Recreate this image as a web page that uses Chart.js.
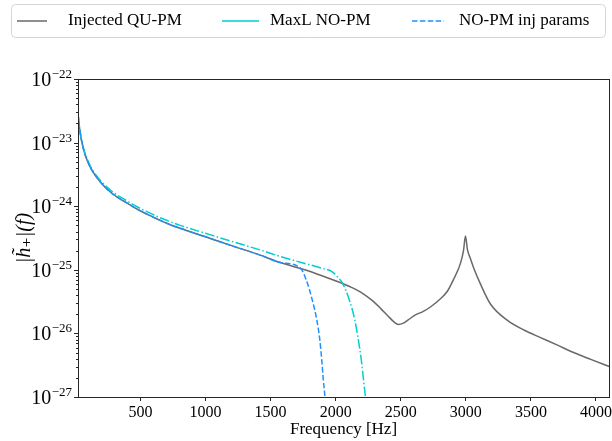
<!DOCTYPE html>
<html><head><meta charset="utf-8">
<script src="https://cdn.jsdelivr.net/npm/chart.js@4.4.1/dist/chart.umd.min.js"></script>
<style>html,body{margin:0;padding:0;background:#fff;}canvas{display:block;}</style>
</head><body>
<canvas id="c" width="612" height="441"></canvas>
<script>
// ---- data ----
const freqQU = [20, 30, 40, 58, 80, 112, 150, 212, 280, 343, 410, 474, 550, 628, 720, 805, 1000, 1200, 1420, 1574, 1750, 1900, 2035, 2120, 2212, 2280, 2343, 2400, 2450, 2482, 2520, 2560, 2612, 2670, 2728, 2805, 2858, 2905, 2958, 2982, 2997, 3012, 3035, 3058, 3112, 3189, 3320, 3450, 3574, 3700, 3828, 3960, 4105];
const ampQU = [2.8e-23, 1.8e-23, 1.3e-23, 8.5e-24, 6.0e-24, 4.2e-24, 3.1e-24, 2.15e-24, 1.6e-24, 1.3e-24, 1.08e-24, 9.0e-25, 7.5e-25, 6.3e-25, 5.2e-25, 4.5e-25, 3.3e-25, 2.4e-25, 1.7e-25, 1.3e-25, 1.02e-25, 8.0e-26, 6.3e-26, 5.3e-26, 4.2e-26, 3.3e-26, 2.5e-26, 1.9e-26, 1.5e-26, 1.38e-26, 1.45e-26, 1.65e-26, 1.95e-26, 2.2e-26, 2.6e-26, 3.5e-26, 4.6e-26, 7.0e-26, 1.25e-25, 2.0e-25, 3.4e-25, 2.1e-25, 1.5e-25, 1.1e-25, 6.0e-26, 2.9e-26, 1.6e-26, 1.12e-26, 8.6e-27, 6.6e-27, 5.0e-27, 3.9e-27, 3.0e-27];

const freqMaxL = [20, 30, 40, 58, 80, 112, 150, 212, 280, 343, 410, 474, 550, 628, 720, 805, 1000, 1200, 1420, 1574, 1750, 1900, 1974, 2012, 2051, 2105, 2147, 2174, 2197, 2214, 2228, 2245];
const ampMaxL = [2.9e-23, 1.85e-23, 1.35e-23, 8.8e-24, 6.3e-24, 4.4e-24, 3.25e-24, 2.3e-24, 1.72e-24, 1.4e-24, 1.17e-24, 9.8e-25, 8.2e-25, 6.9e-25, 5.8e-25, 5.0e-25, 3.75e-25, 2.8e-25, 2.05e-25, 1.62e-25, 1.28e-25, 1.05e-25, 9.3e-26, 7.8e-26, 6.2e-26, 3.35e-26, 1.62e-26, 7.9e-27, 3.8e-27, 1.85e-27, 1.0e-27, 3.0e-28];

const freqInj = [20, 30, 40, 58, 80, 112, 150, 212, 280, 343, 410, 474, 550, 628, 720, 805, 1000, 1200, 1420, 1574, 1728, 1774, 1820, 1855, 1878, 1893, 1905, 1917, 1930];
const ampInj = [2.8e-23, 1.8e-23, 1.3e-23, 8.5e-24, 6.0e-24, 4.2e-24, 3.1e-24, 2.15e-24, 1.6e-24, 1.3e-24, 1.08e-24, 9.0e-25, 7.5e-25, 6.3e-25, 5.2e-25, 4.5e-25, 3.3e-25, 2.4e-25, 1.7e-25, 1.3e-25, 1.07e-25, 6.9e-26, 3.35e-26, 1.62e-26, 7.9e-27, 3.8e-27, 1.85e-27, 1.0e-27, 3.0e-28];

const xTicks = [500, 1000, 1500, 2000, 2500, 3000, 3500, 4000];
const yExponents = [-22, -23, -24, -25, -26, -27];
const seriesLabels = ['Injected QU-PM', 'MaxL NO-PM', 'NO-PM inj params'];

const SERIF = "'Liberation Serif','DejaVu Serif',serif";
const toXY = (xs, ys) => xs.map((x, i) => ({x: x, y: ys[i]}));

const decor = {
  id: 'decor',
  afterDraw(chart) {
    const {ctx, chartArea: a, scales: {x, y}} = chart;
    ctx.save();
    // spines
    ctx.strokeStyle = '#262626'; ctx.lineWidth = 1;
    ctx.strokeRect(Math.round(a.left) + 0.5, Math.round(a.top) + 0.5, Math.round(a.right - a.left), Math.round(a.bottom - a.top));
    // y ticks (major + minor)
    ctx.beginPath();
    yExponents.forEach(e => {
      const py = Math.round(y.getPixelForValue(Math.pow(10, e))) + 0.5;
      ctx.moveTo(a.left, py); ctx.lineTo(a.left - 4, py);
      if (e > -27) {
        for (let k = 2; k <= 9; k++) {
          const pm = Math.round(y.getPixelForValue(k * Math.pow(10, e - 1))) + 0.5;
          ctx.moveTo(a.left, pm); ctx.lineTo(a.left - 2, pm);
        }
      }
    });
    ctx.stroke();
    // y labels 10^e
    ctx.fillStyle = '#000';
    ctx.textBaseline = 'alphabetic';
    yExponents.forEach(e => {
      const py = y.getPixelForValue(Math.pow(10, e));
      const ex = '\u2212' + String(-e);
      ctx.font = '13px ' + SERIF;
      const ew = ctx.measureText(ex).width;
      ctx.textAlign = 'right';
      ctx.fillText(ex, 72, py - 1);
      ctx.font = '20px ' + SERIF;
      ctx.fillText('10', 72 - ew - 0.5, py + 7);
    });
    // y title
    ctx.save();
    ctx.translate(25, (a.top + a.bottom) / 2);
    ctx.rotate(-Math.PI / 2);
    ctx.textAlign = 'center'; ctx.textBaseline = 'middle';
    ctx.font = 'italic 20px ' + SERIF;
    ctx.fillText('|h\u0303\u208A|(f)', 0, 0);
    ctx.restore();
    // x title
    ctx.textAlign = 'center'; ctx.textBaseline = 'middle';
    ctx.font = '17px ' + SERIF;
    ctx.fillText('Frequency [Hz]', (a.left + a.right) / 2, 430);
    // legend
    const lx = 11.5, ly = 4.5, lw = 594, lh = 33, r = 4;
    ctx.beginPath();
    ctx.moveTo(lx + r, ly); ctx.lineTo(lx + lw - r, ly); ctx.arcTo(lx + lw, ly, lx + lw, ly + r, r);
    ctx.lineTo(lx + lw, ly + lh - r); ctx.arcTo(lx + lw, ly + lh, lx + lw - r, ly + lh, r);
    ctx.lineTo(lx + r, ly + lh); ctx.arcTo(lx, ly + lh, lx, ly + lh - r, r);
    ctx.lineTo(lx, ly + r); ctx.arcTo(lx, ly, lx + r, ly, r); ctx.closePath();
    ctx.strokeStyle = '#d5d5d5'; ctx.lineWidth = 1; ctx.stroke();
    const items = [
      {x0: 17, x1: 47, tx: 68, color: '#696969', dash: []},
      {x0: 222, x1: 259, tx: 270, color: '#00CED1', dash: []},
      {x0: 412, x1: 444, tx: 459, color: '#1E90FF', dash: [5.5, 2.4]}
    ];
    items.forEach((it, i) => {
      ctx.beginPath(); ctx.setLineDash(it.dash);
      ctx.strokeStyle = it.color; ctx.lineWidth = 1.5;
      ctx.moveTo(it.x0, 21); ctx.lineTo(it.x1, 21); ctx.stroke();
      ctx.setLineDash([]);
      ctx.fillStyle = '#000'; ctx.textAlign = 'left'; ctx.textBaseline = 'middle';
      ctx.font = '17px ' + SERIF;
      ctx.fillText(seriesLabels[i], it.tx, 21);
    });
    ctx.restore();
  }
};

new Chart(document.getElementById('c'), {
  type: 'line',
  data: {
    datasets: [
      {label: seriesLabels[2], data: toXY(freqInj, ampInj), borderColor: '#1E90FF', borderDash: [5.5, 2.4], borderWidth: 1.5, order: 0},
      {label: seriesLabels[1], data: toXY(freqMaxL, ampMaxL), borderColor: '#00CED1', borderDash: [9.6, 2.4, 1.5, 2.4], borderWidth: 1.5, order: 1},
      {label: seriesLabels[0], data: toXY(freqQU, ampQU), borderColor: '#696969', borderWidth: 1.5, order: 2}
    ]
  },
  options: {
    responsive: false, animation: false, devicePixelRatio: 1,
    layout: {padding: {top: 79, right: 3, left: 0, bottom: 0}},
    plugins: {legend: {display: false}, tooltip: {enabled: false}},
    elements: {point: {radius: 0}, line: {cubicInterpolationMode: 'monotone', fill: false}},
    scales: {
      x: {
        type: 'linear', min: 20, max: 4100,
        afterBuildTicks: s => { s.ticks = xTicks.map(v => ({value: v})); },
        afterFit: s => { s.height = 44; s.paddingLeft = 0; s.paddingRight = 0; },
        grid: {display: true, drawOnChartArea: false, tickLength: 4, tickColor: '#262626', tickWidth: 1},
        border: {display: false},
        ticks: {color: '#000', font: {family: SERIF, size: 16}, padding: 2, maxRotation: 0, autoSkip: false, callback: v => String(v)}
      },
      y: {
        type: 'logarithmic', min: 1e-27, max: 1e-22,
        afterFit: s => { s.width = 78; s.paddingTop = 0; s.paddingBottom = 0; },
        grid: {display: false}, border: {display: false},
        ticks: {display: false}
      }
    }
  },
  plugins: [decor]
});
</script>
</body></html>
